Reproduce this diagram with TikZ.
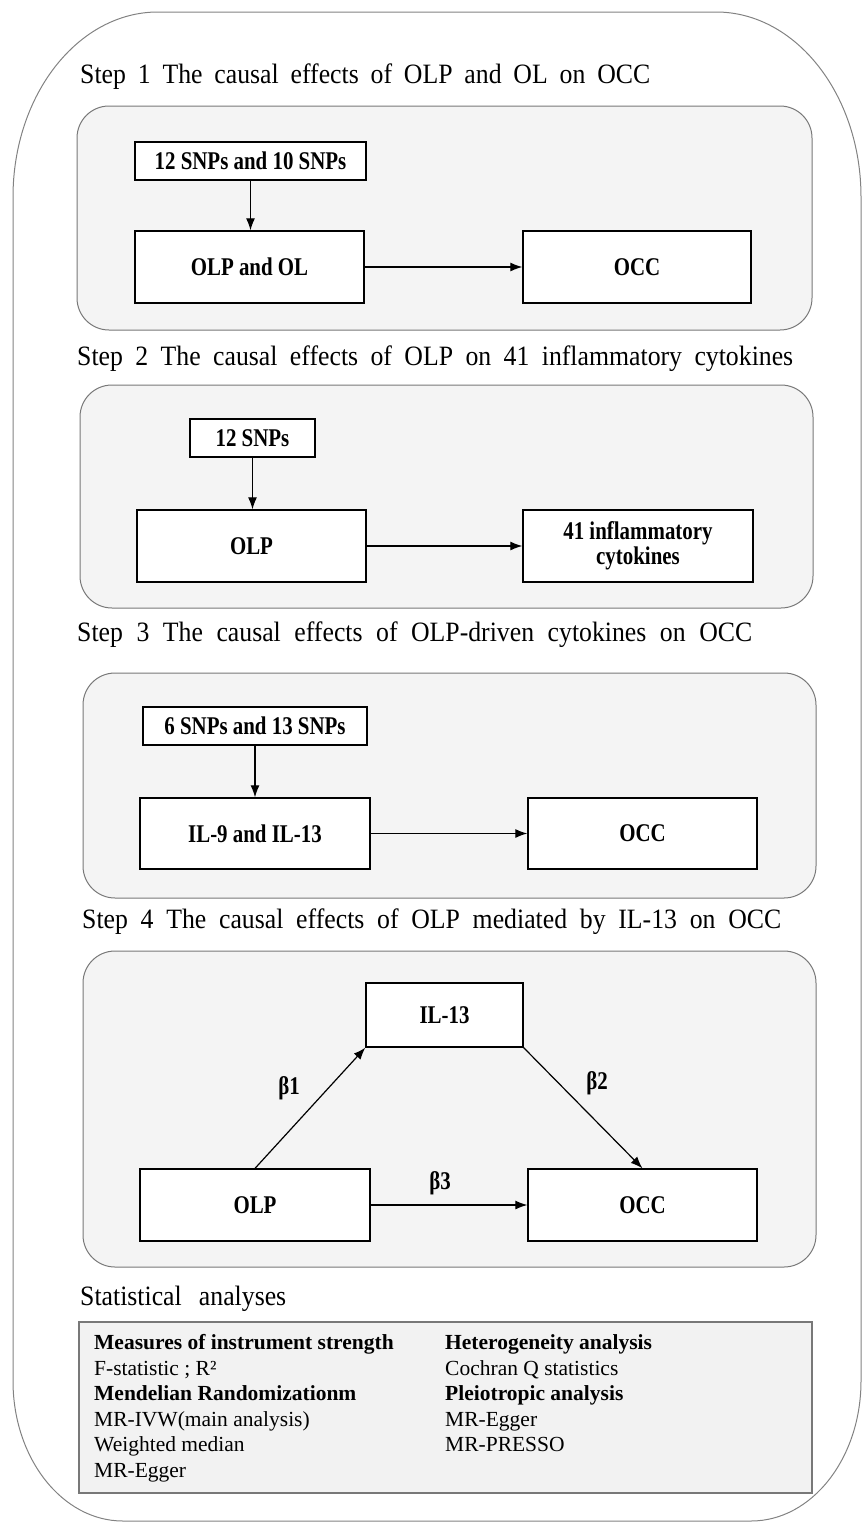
\documentclass[tikz,border=0pt]{standalone}
\usepackage{fontspec}
\setmainfont{Liberation Serif}
\newfontfamily\boxfont[FakeStretch=0.82]{Liberation Serif}
\newfontfamily\titlefont[FakeStretch=0.92]{Liberation Serif}
\usetikzlibrary{arrows.meta}
\definecolor{panelfill}{RGB}{244,244,244}
\definecolor{panelline}{RGB}{120,120,120}
\definecolor{statfill}{RGB}{242,242,242}
\definecolor{outerline}{RGB}{130,130,130}
\begin{document}
\begin{tikzpicture}[x=1pt,y=-1pt,
  panel/.style={draw=panelline, line width=1pt, fill=panelfill, rounded corners=32pt},
  statbox/.style={draw=panelline, line width=1.4pt, fill=statfill},
  box/.style={draw=black, line width=1.3pt, fill=white, inner sep=0pt, align=center,
    font=\boxfont\bfseries\fontsize{25.5}{25}\selectfont},
  lbl/.style={inner sep=0pt, font=\boxfont\bfseries\fontsize{25.5}{25}\selectfont},
  arr/.style={-{Latex[length=12pt,width=9pt]}, line width=1.2pt},
  title/.style={anchor=base west, inner sep=0pt, font=\titlefont\fontsize{28}{32}\selectfont},
  stat/.style={anchor=base west, inner sep=0pt, font=\fontsize{21.5}{25}\selectfont}
]
\useasboundingbox (0,0) rectangle (863,1523);
% outer frame
\draw[outerline, line width=1pt] (13,197) .. controls (13,95) and (78,12) .. (158,12)
  -- (716,12) .. controls (796,12) and (861,95) .. (861,197)
  -- (861,1381) .. controls (861,1458) and (812,1521) .. (751,1521)
  -- (123,1521) .. controls (62,1521) and (13,1458) .. (13,1381) -- cycle;

% Step 1
\node[title] (t1) at (80,83) {\makebox[570pt][s]{Step 1 The causal effects of OLP and OL on OCC}};
\draw[panel] (77,106) rectangle (812,330);
\node[box, minimum width=231pt, minimum height=38pt] (snpA) at (250.5,161) {12 SNPs and 10 SNPs};
\node[box, minimum width=229pt, minimum height=72pt] (olpA) at (249.5,267) {OLP and OL};
\node[box, minimum width=228pt, minimum height=72pt] (occA) at (637,267) {OCC};
\draw[arr] (snpA.south) -- (snpA.south |- olpA.north);
\draw[arr] (olpA.east) -- (occA.west);

% Step 2
\node[title] (t2) at (77,365) {\makebox[716pt][s]{Step 2 The causal effects of OLP on 41 inflammatory cytokines}};
\draw[panel] (80,385) rectangle (813,608);
\node[box, minimum width=125pt, minimum height=38pt] (snpB) at (252.5,438) {12 SNPs};
\node[box, minimum width=229pt, minimum height=72pt] (olpB) at (251.5,546) {OLP};
\node[box, minimum width=230pt, minimum height=72pt] (cytB) at (638,546) {41 inflammatory\\cytokines};
\draw[arr] (snpB.south) -- (snpB.south |- olpB.north);
\draw[arr] (olpB.east) -- (cytB.west);

% Step 3
\node[title] (t3) at (77,641) {\makebox[675pt][s]{Step 3 The causal effects of OLP-driven cytokines on OCC}};
\draw[panel] (83,673) rectangle (816,898);
\node[box, minimum width=224pt, minimum height=38pt] (snpC) at (255,726) {6 SNPs and 13 SNPs};
\node[box, minimum width=230pt, minimum height=71pt] (ilC) at (255,833.5) {IL-9 and IL-13};
\node[box, minimum width=229pt, minimum height=71pt] (occC) at (642.5,833.5) {OCC};
\draw[arr] (snpC.south) -- (snpC.south |- ilC.north);
\draw[arr] (ilC.east) -- (occC.west);

% Step 4
\node[title] (t4) at (82,928) {\makebox[699pt][s]{Step 4 The causal effects of OLP mediated by IL-13 on OCC}};
\draw[panel] (83,951) rectangle (816,1267);
\node[box, minimum width=157pt, minimum height=64pt] (ilD) at (444.5,1015) {IL-13};
\node[box, minimum width=230pt, minimum height=72pt] (olpD) at (255,1205) {OLP};
\node[box, minimum width=229pt, minimum height=72pt] (occD) at (642.5,1205) {OCC};
\draw[arr] (olpD.north) -- (ilD.south west);
\draw[arr] (ilD.south east) -- (occD.north);
\draw[arr] (olpD.east) -- (occD.west);
\node[lbl] (b1) at (289,1088) {β1};
\node[lbl] (b2) at (597,1083) {β2};
\node[lbl] (b3) at (440,1183) {β3};

% Statistical analyses
\node[title] (t5) at (80,1305) {\makebox[206pt][s]{Statistical analyses}};
\draw[statbox] (79,1322) rectangle (812,1493);
\node[stat] (s1) at (94,1349) {\bfseries Measures of instrument strength};
\node[stat] (s2) at (94,1375) {F-statistic ; R²};
\node[stat] (s3) at (94,1400) {\bfseries Mendelian Randomizationm};
\node[stat] (s4) at (94,1426) {MR-IVW(main analysis)};
\node[stat] (s5) at (94,1451) {Weighted median};
\node[stat] (s6) at (94,1477) {MR-Egger};
\node[stat] (r1) at (445,1349) {\bfseries Heterogeneity analysis};
\node[stat] (r2) at (445,1375) {Cochran Q statistics};
\node[stat] (r3) at (445,1400) {\bfseries Pleiotropic analysis};
\node[stat] (r4) at (445,1426) {MR-Egger};
\node[stat] (r5) at (445,1451) {MR-PRESSO};
\end{tikzpicture}
\end{document}
